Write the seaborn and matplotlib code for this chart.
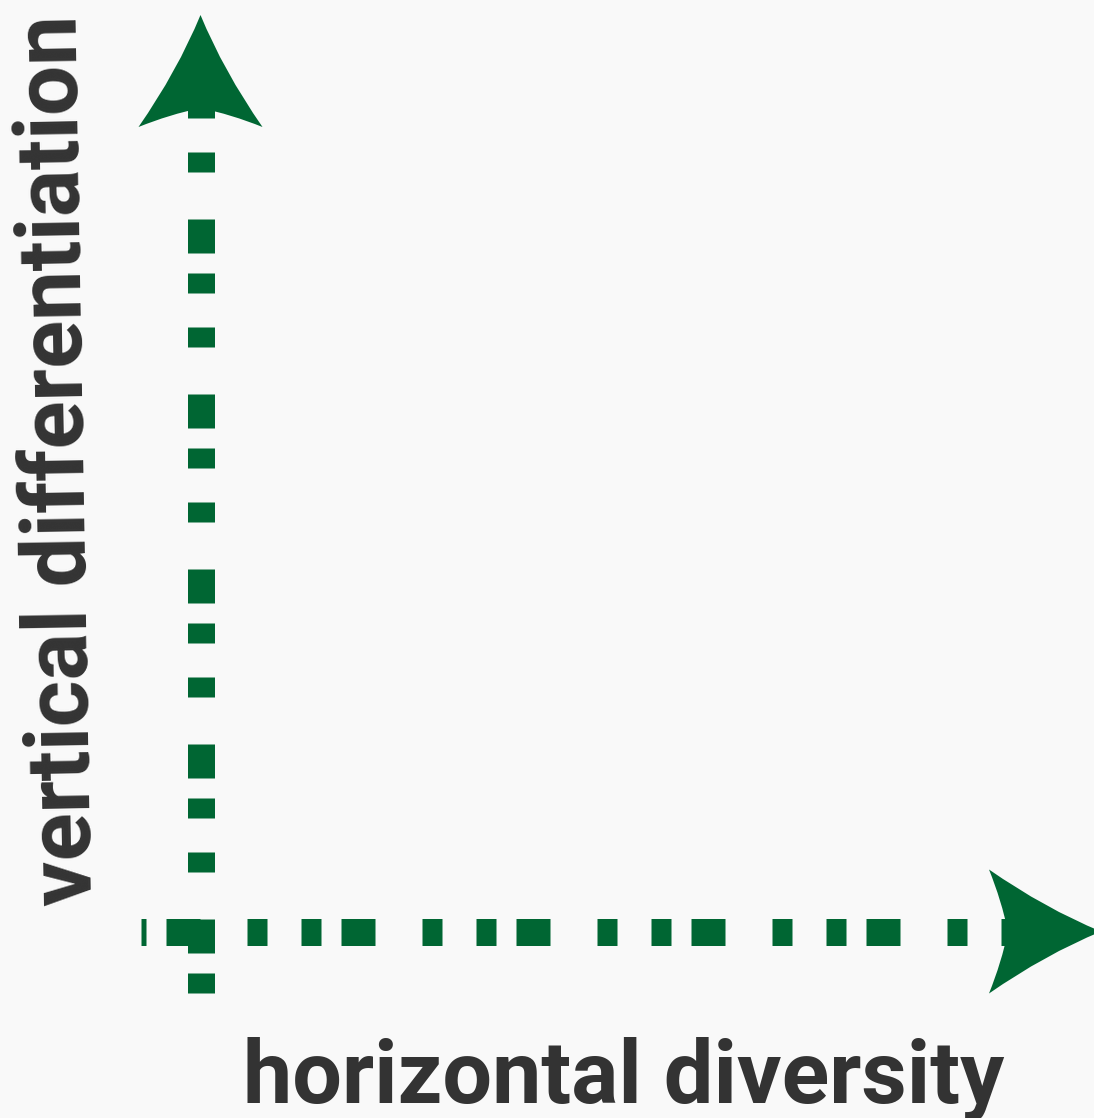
import numpy as np
import pandas as pd
import matplotlib
matplotlib.use("Agg")
import matplotlib.pyplot as plt
import matplotlib.font_manager as fm
from matplotlib.path import Path
from matplotlib.patches import PathPatch
import seaborn as sns

# ---- content -------------------------------------------------------------
x_label = "horizontal diversity"
y_label = "vertical differentiation"

# axis geometry of the diagram (canvas pixel space)
h_axis_x = [141, 1010]
h_axis_y = [931.5, 931.5]
v_axis_x = [200.5, 200.5]
v_axis_y = [993, 105]
h_tip = [1101, 931.5]
v_tip = [200.5, 15]

GREEN = "#006633"
TEXT = "#333333"
BG = "#f9f9f9"

sns.set_theme(style="white")
plt.rcParams["lines.scale_dashes"] = False

font_kw = dict(family=["Roboto", "DejaVu Sans"], fontweight="bold")

W_PX, H_PX = 1094, 1118
fig = plt.figure(figsize=(W_PX / 100, H_PX / 100), dpi=100)
fig.patch.set_facecolor(BG)
ax = fig.add_axes([0, 0, 1, 1])
ax.set_facecolor(BG)
ax.set_xlim(0, W_PX)
ax.set_ylim(H_PX, 0)
ax.axis("off")

px = 0.72  # px -> pt at 100 dpi
pattern = tuple(v * px for v in (34, 47, 20, 34, 20, 20))
lw = 27 * px

h_df = pd.DataFrame({"x": h_axis_x, "y": h_axis_y})
v_df = pd.DataFrame({"x": v_axis_x, "y": v_axis_y})
sns.lineplot(data=h_df, x="x", y="y", ax=ax, estimator=None, sort=False,
             color=GREEN, linewidth=lw, linestyle=(150 * px, pattern), zorder=2)
sns.lineplot(data=v_df, x="x", y="y", ax=ax, estimator=None, sort=False,
             color=GREEN, linewidth=lw, linestyle=(135 * px, pattern), zorder=2)
ax.set_xlim(0, W_PX)
ax.set_ylim(H_PX, 0)
if ax.get_legend() is not None:
    ax.get_legend().remove()


def arrowhead(tip, direction, L=112, W=62, N=93, bow=8, back_bow=3):
    t = np.asarray(tip, float)
    d = np.asarray(direction, float)
    d = d / np.linalg.norm(d)
    n = np.array([-d[1], d[0]])
    c1 = t - L * d + W * n
    c2 = t - L * d - W * n
    notch = t - N * d
    k1 = (t + c1) / 2 - bow * n
    k2 = (t + c2) / 2 + bow * n
    b1 = (c1 + notch) / 2 + back_bow * d
    b2 = (c2 + notch) / 2 + back_bow * d
    verts = [t, k1, c1, b1, notch, b2, c2, k2, t, t]
    codes = [Path.MOVETO, Path.CURVE3, Path.CURVE3, Path.CURVE3, Path.CURVE3,
             Path.CURVE3, Path.CURVE3, Path.CURVE3, Path.CURVE3, Path.CLOSEPOLY]
    return PathPatch(Path(verts, codes), facecolor=GREEN, edgecolor="none", zorder=3)


ax.add_patch(arrowhead(h_tip, (1, 0)))
ax.add_patch(arrowhead(v_tip, (0, -1)))

# labels
tx = ax.text(624, 1103, x_label, ha="center", va="baseline", color=TEXT,
             fontsize=60, **font_kw)
ty = ax.text(84.5, 459.5, y_label, ha="center", va="baseline", color=TEXT,
             fontsize=60, rotation=0, rotation_mode="anchor", **font_kw)

renderer = fig.canvas.get_renderer()
for obj, target in ((tx, 760), (ty, 891)):
    for _ in range(3):
        bb = obj.get_window_extent(renderer)
        obj.set_fontsize(obj.get_fontsize() * target / bb.width)
ty.set_rotation(91)

fig.savefig("out.png", dpi=100, facecolor=BG)
